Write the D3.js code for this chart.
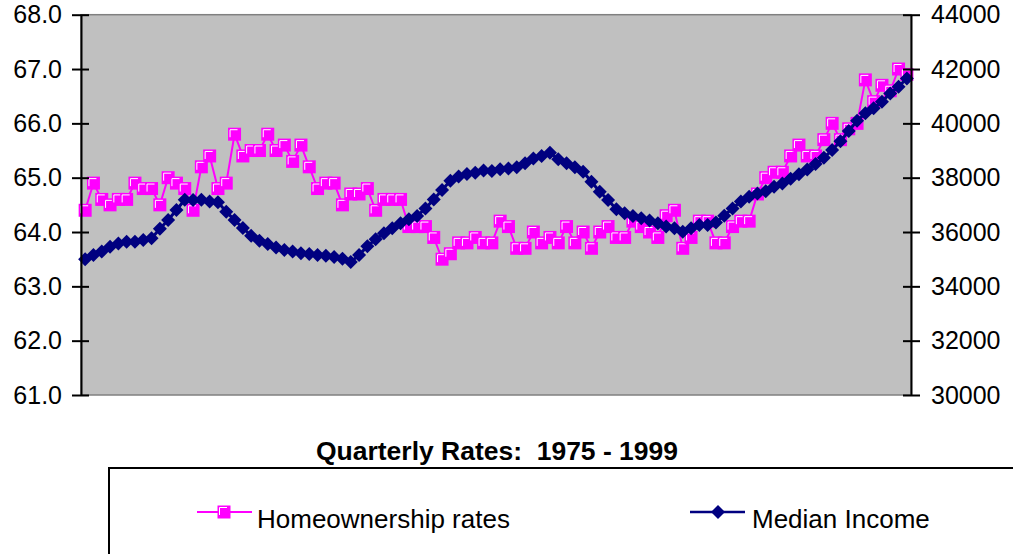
<!DOCTYPE html>
<html>
<head>
<meta charset="utf-8">
<script src="https://cdn.jsdelivr.net/npm/d3@7"></script>
<style>
  body { margin: 0; background: #fff; }
  text { font-family: "Liberation Sans", Arial, sans-serif; fill: #000; }
</style>
</head>
<body>
<div id="graph"></div>
<script>
const years = [1975,1976,1977,1978,1979,1980,1981,1982,1983,1984,1985,1986,1987,1988,1989,1990,1991,1992,1993,1994,1995,1996,1997,1998,1999];
const quarters = ['Q1','Q2','Q3','Q4'];
const leftTicks = [61,62,63,64,65,66,67,68];
const rightTicks = [30000,32000,34000,36000,38000,40000,42000,44000];

// homeownership rate, %
const homeRate = [
  64.4,64.9,64.6,64.5,64.6,64.6,64.9,64.8,64.8,64.5,
  65.0,64.9,64.8,64.4,65.2,65.4,64.8,64.9,65.8,65.4,
  65.5,65.5,65.8,65.5,65.6,65.3,65.6,65.2,64.8,64.9,
  64.9,64.5,64.7,64.7,64.8,64.4,64.6,64.6,64.6,64.1,
  64.1,64.1,63.9,63.5,63.6,63.8,63.8,63.9,63.8,63.8,
  64.2,64.1,63.7,63.7,64.0,63.8,63.9,63.8,64.1,63.8,
  64.0,63.7,64.0,64.1,63.9,63.9,64.2,64.1,64.0,63.9,
  64.3,64.4,63.7,63.9,64.2,64.2,63.8,63.8,64.1,64.2,
  64.2,64.7,65.0,65.1,65.1,65.4,65.6,65.4,65.4,65.7,
  66.0,65.7,65.9,66.0,66.8,66.4,66.7,66.6,67.0,66.9
];

// median household income
const medIncome = [
  35000,35150,35280,35460,35580,35640,35640,35710,35770,36120,
  36440,36810,37190,37180,37190,37120,37100,36750,36440,36150,
  35860,35680,35560,35430,35340,35280,35220,35190,35150,35130,
  35080,35020,34900,35150,35480,35730,35950,36140,36320,36470,
  36590,36870,37200,37550,37890,38040,38140,38180,38260,38250,
  38310,38340,38380,38530,38710,38800,38920,38680,38530,38380,
  38220,37850,37480,37180,36840,36690,36590,36510,36420,36320,
  36200,36140,36010,36140,36260,36260,36350,36600,36870,37120,
  37300,37420,37500,37670,37790,37960,38130,38300,38500,38730,
  39020,39340,39720,40100,40370,40560,40800,41100,41350,41650
];

const categories = [];
years.forEach(y => quarters.forEach(q => categories.push(y + ' ' + q)));

const w = 1013, h = 554;
const plot_left = 81, plot_right = 911, plot_top = 14.7, plot_bottom = 395;
const pink = '#FF00FF', navy = '#000080';

const svg = d3.select('#graph').append('svg')
  .attr('width', w).attr('height', h);

const xScale = d3.scalePoint().domain(categories).range([plot_left, plot_right]).padding(0.5);
const yLeft = d3.scaleLinear().domain([61, 68]).range([plot_bottom, plot_top]);
const yRight = d3.scaleLinear().domain([30000, 44000]).range([plot_bottom, plot_top]);

// plot area
svg.append('rect')
  .attr('x', plot_left).attr('y', plot_top)
  .attr('width', plot_right - plot_left).attr('height', plot_bottom - plot_top)
  .attr('fill', '#C0C0C0').attr('stroke', '#808080').attr('stroke-width', 1.5);

// homeownership line + squares
const lineHome = d3.line().x((d, i) => xScale(categories[i])).y(d => yLeft(d));
svg.append('path').datum(homeRate)
  .attr('d', lineHome).attr('fill', 'none')
  .attr('stroke', pink).attr('stroke-width', 2);

function square(g, x, y) {
  g.append('rect').attr('x', x - 6.5).attr('y', y - 6.5).attr('width', 13).attr('height', 13)
    .attr('fill', pink);
  g.append('path').attr('d', `M${x - 4.5},${y + 3}V${y - 4.5}H${x + 3}`)
    .attr('fill', 'none').attr('stroke', '#fff').attr('stroke-width', 1);
}
const gHome = svg.append('g');
homeRate.forEach((d, i) => square(gHome, xScale(categories[i]), yLeft(d)));

// median income line + diamonds
const lineInc = d3.line().x((d, i) => xScale(categories[i])).y(d => yRight(d));
svg.append('path').datum(medIncome)
  .attr('d', lineInc).attr('fill', 'none')
  .attr('stroke', navy).attr('stroke-width', 3);

function diamond(x, y) {
  return `M${x},${y - 7}L${x + 7},${y}L${x},${y + 7}L${x - 7},${y}Z`;
}
svg.append('g').selectAll('path')
  .data(medIncome).enter().append('path')
  .attr('d', (d, i) => diamond(xScale(categories[i]), yRight(d)))
  .attr('fill', navy);

// left axis
const axL = svg.append('g')
  .attr('transform', 'translate(' + plot_left + ',0)')
  .call(d3.axisLeft(yLeft).tickValues(leftTicks).tickFormat(d3.format('.1f'))
    .tickSize(9).tickSizeOuter(0).tickPadding(10));
axL.select('.domain').attr('stroke', '#000').attr('stroke-width', 2);
axL.selectAll('.tick line').attr('x1', 8).attr('stroke', '#000').attr('stroke-width', 2);
axL.selectAll('.tick text').attr('font-size', 25).attr('font-family', '"Liberation Sans", Arial, sans-serif');

// right axis
const axR = svg.append('g')
  .attr('transform', 'translate(' + plot_right + ',0)')
  .call(d3.axisRight(yRight).tickValues(rightTicks).tickFormat(d3.format('d'))
    .tickSize(9).tickSizeOuter(0).tickPadding(11));
axR.select('.domain').attr('stroke', '#000').attr('stroke-width', 2);
axR.selectAll('.tick line').attr('x1', -8).attr('stroke', '#000').attr('stroke-width', 2);
axR.selectAll('.tick text').attr('font-size', 25).attr('font-family', '"Liberation Sans", Arial, sans-serif');

// x title
svg.append('text')
  .text('Quarterly Rates:  1975 - 1999')
  .attr('x', 316).attr('y', 460)
  .attr('font-size', 25).attr('font-weight', 'bold')
  .attr('textLength', 362).attr('lengthAdjust', 'spacingAndGlyphs')
  .style('white-space', 'pre');

// legend
svg.append('rect')
  .attr('x', 109).attr('y', 468).attr('width', 1000).attr('height', 200)
  .attr('fill', '#fff').attr('stroke', '#000').attr('stroke-width', 2);

const lg = svg.append('g');
lg.append('line').attr('x1', 197).attr('x2', 252).attr('y1', 512).attr('y2', 512)
  .attr('stroke', pink).attr('stroke-width', 2);
square(lg, 224, 512);
lg.append('text').text('Homeownership rates').attr('x', 257).attr('y', 528).attr('font-size', 26);

lg.append('line').attr('x1', 690).attr('x2', 745).attr('y1', 512).attr('y2', 512)
  .attr('stroke', navy).attr('stroke-width', 2.5);
lg.append('path').attr('d', diamond(718, 512)).attr('fill', navy);
lg.append('text').text('Median Income').attr('x', 752).attr('y', 528).attr('font-size', 26);
</script>
</body>
</html>
